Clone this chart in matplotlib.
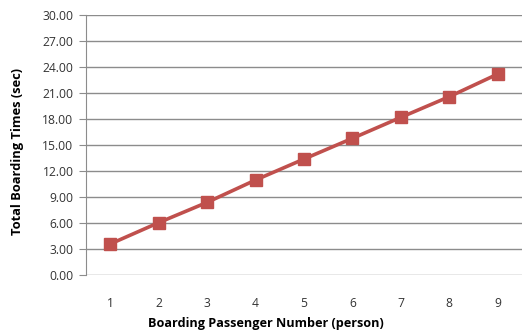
import matplotlib.pyplot as plt

passengers = [1, 2, 3, 4, 5, 6, 7, 8, 9]
boarding_times = [3.58, 6.04, 8.38, 10.96, 13.38, 15.77, 18.19, 20.58, 23.19]
y_ticks = [0, 3, 6, 9, 12, 15, 18, 21, 24, 27, 30]

plt.rcParams['font.family'] = ['Open Sans', 'DejaVu Sans']

fig = plt.figure(figsize=(5.24, 3.32), dpi=100)
ax = fig.add_axes([86/524, 1 - 275/332, 436/524, 260/332])

ax.plot(passengers, boarding_times, color='#C0504D', linewidth=2.6,
        marker='s', markersize=8.5, zorder=3)

ax.set_xlim(0.5, 9.5)
ax.set_ylim(0, 30)
ax.set_yticks(y_ticks)
ax.set_yticklabels(['%.2f' % v for v in y_ticks])
ax.set_xticks(passengers)
ax.grid(axis='y', color='#8c8c8c', linewidth=1.0)
ax.set_axisbelow(True)

for s in ['top', 'right', 'bottom']:
    ax.spines[s].set_visible(False)
ax.spines['left'].set_color('#8c8c8c')
ax.tick_params(axis='y', length=5, color='#8c8c8c', labelsize=8.7,
               labelcolor='#333333', pad=4)
ax.tick_params(axis='x', length=0, labelsize=8.7, labelcolor='#333333', pad=16)

fig.text(266/524, 1 - 323/332, 'Boarding Passenger Number (person)',
         ha='center', va='center', fontsize=9.1, fontweight='bold')
fig.text(18/524, 1 - 152/332, 'Total Boarding Times (sec)',
         ha='center', va='center', rotation=90, fontsize=9.3, fontweight='bold')

fig.savefig('out.png', dpi=100)
